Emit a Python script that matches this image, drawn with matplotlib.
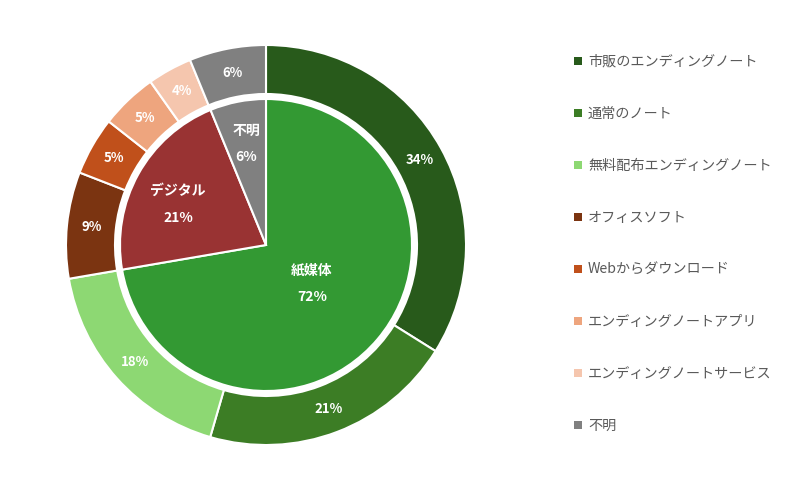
import numpy as np
import matplotlib
matplotlib.use("Agg")
import matplotlib.pyplot as plt
from matplotlib.patches import Rectangle

plt.rcParams['font.family'] = ['Noto Sans CJK JP', 'DejaVu Sans']

outer_labels = ["市販のエンディングノート", "通常のノート", "無料配布エンディングノート",
                "オフィスソフト", "Webからダウンロード", "エンディングノートアプリ",
                "エンディングノートサービス", "不明"]
outer_values = [33.9, 20.6, 17.8, 8.6, 4.7, 4.6, 3.6, 6.2]
outer_text = ["34%", "21%", "18%", "9%", "5%", "5%", "4%", "6%"]
outer_colors = ["#285a1b", "#3c7d25", "#8dd873", "#7b3411", "#c0501b", "#eea57e", "#f5c6ae", "#808080"]

inner_labels = ["紙媒体", "デジタル", "不明"]
inner_values = [72.3, 21.5, 6.2]
inner_text = ["72%", "21%", "6%"]
inner_colors = ["#339933", "#993333", "#808080"]

W, H = 800, 490
fig = plt.figure(figsize=(W / 100, H / 100), dpi=100)
ax = fig.add_axes([0, 0, 1, 1])

cx, cy = 266, H - 245
R_out, R_ring_in, R_in = 200, 151, 146

ax.pie(outer_values, colors=outer_colors, startangle=90, counterclock=False,
       radius=R_out, center=(cx, cy),
       wedgeprops=dict(width=R_out - R_ring_in, edgecolor='white', linewidth=1.5))
ax.pie(inner_values, colors=inner_colors, startangle=90, counterclock=False,
       radius=R_in, center=(cx, cy),
       wedgeprops=dict(edgecolor='white', linewidth=1.5))

ax.set_xlim(0, W)
ax.set_ylim(0, H)
ax.set_aspect('equal')
ax.axis('off')

def mid_angle(values, i):
    tot = sum(values)
    start = sum(values[:i]) / tot
    mid = start + values[i] / tot / 2
    return np.deg2rad(90 - 360 * mid)

r_lab = (R_out + R_ring_in) / 2
for i, t in enumerate(outer_text):
    a = mid_angle(outer_values, i)
    ax.text(cx + r_lab * np.cos(a), cy + r_lab * np.sin(a), t, color='white',
            fontsize=9.5, fontweight='bold', ha='center', va='center')

inner_r = [60, 97, 103]
inner_shift = [0, 4, 0]
for i, (lab, t) in enumerate(zip(inner_labels, inner_text)):
    a = mid_angle(inner_values, i) + np.deg2rad(inner_shift[i])
    x, y = cx + inner_r[i] * np.cos(a), cy + inner_r[i] * np.sin(a)
    ax.text(x, y + 13.5, lab, color='white', fontsize=10, fontweight='bold', ha='center', va='center')
    ax.text(x, y - 13.5, t, color='white', fontsize=10, fontweight='bold', ha='center', va='center')

for i, (lab, c) in enumerate(zip(outer_labels, outer_colors)):
    y = H - (61 + 52 * i)
    ax.add_patch(Rectangle((574, y - 4), 8, 8, facecolor=c, edgecolor='none'))
    ax.text(588, y - 1, lab, color='#595959', fontsize=10.2, ha='left', va='center')

fig.savefig("out.png", dpi=100, facecolor='white')
